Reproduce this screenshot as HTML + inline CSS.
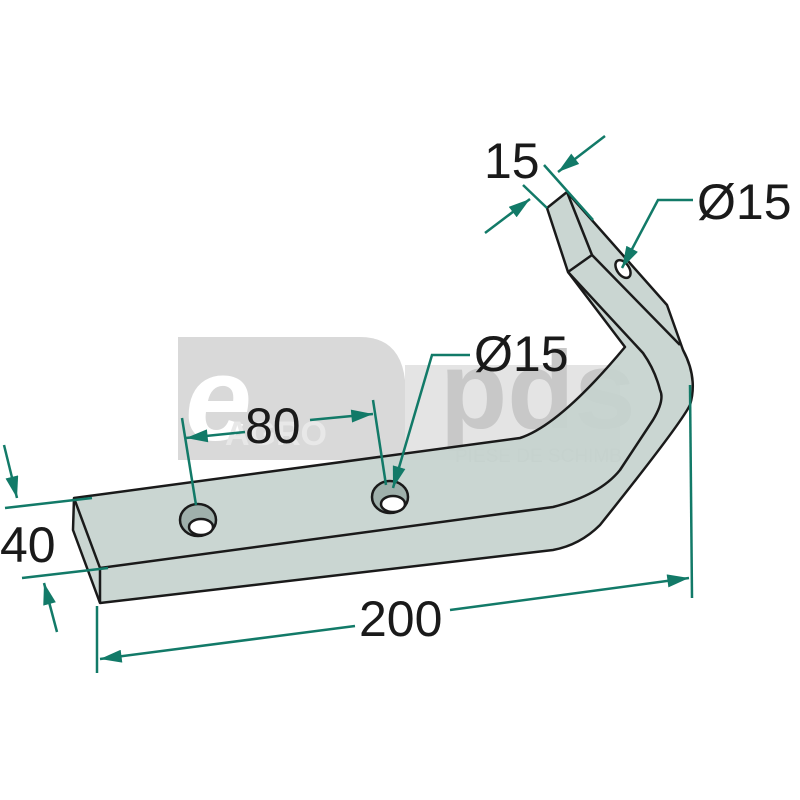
<!DOCTYPE html>
<html><head><meta charset="utf-8"><style>
html,body{margin:0;padding:0;background:#fff;width:800px;height:800px;overflow:hidden}
svg{display:block}
text{font-family:"Liberation Sans","DejaVu Sans",sans-serif}
</style></head><body>
<svg width="800" height="800" viewBox="0 0 800 800" xmlns="http://www.w3.org/2000/svg">
<defs>
<marker id="b" viewBox="0 0 20 12" refX="20" refY="6" markerWidth="22" markerHeight="13" orient="auto" markerUnits="userSpaceOnUse">
<path d="M0,0 L20,6 L0,12 Z" fill="#127a68"/></marker>
</defs>
<path d="M178,337 H360 Q400,337 405,380 V460 H178 Z" fill="#d9d9d9"/>
<path d="M405,365 H620 V460 H405 Z" fill="#e4e4e4"/>
<text x="185" y="440" font-size="120" font-style="italic" fill="#fff" font-weight="bold">e</text>
<text x="225" y="445" font-size="34" fill="#e8e8e8" font-weight="bold">AGRO</text>
<text x="440" y="428" font-size="110" fill="#c8c8c8" font-weight="bold">pds</text>
<text x="455" y="462" font-size="19" fill="#c4c4c4">PIESE DE SCHIMB</text>
<g stroke="#1a1a1a" stroke-width="2.5" stroke-linejoin="round" fill="#c6d2ce" fill-opacity="0.92">
<path d="M74,498 L520,438 Q560,425 625,347 L568,272 L547,208 L567,192 L667,305 L683,350 Q698,378 690,405 Q680,425 600,525 Q580,545 553,550 L100,603 L73,530 Z"/>
</g>
<g stroke="#1a1a1a" stroke-width="2.5" fill="none" stroke-linejoin="round">
<path d="M74,498 L100,568 L100,603"/>
<path d="M100,568 L553,507 Q600,495 620,470 L653,420 Q665,400 660,390 Q655,370 643,353 L568,272"/>
<path d="M568,272 L592,255 L567,192"/>
<path d="M592,255 L680,345"/>
<ellipse cx="198" cy="520" rx="18" ry="16" fill="#9fb0ab"/>
<ellipse cx="201" cy="527" rx="12" ry="8" fill="#fff"/>
<ellipse cx="390" cy="497" rx="18" ry="16" fill="#9fb0ab"/>
<ellipse cx="393" cy="504" rx="12" ry="8" fill="#fff"/>
<ellipse cx="623" cy="269" rx="6" ry="10" transform="rotate(-35 623 269)" fill="#fff"/>
</g>
<g stroke="#127a68" stroke-width="2.5" fill="none">
<line x1="544" y1="165" x2="593" y2="220"/>
<line x1="523" y1="185" x2="547" y2="208"/>
<line x1="605" y1="136" x2="558" y2="172" marker-end="url(#b)"/>
<line x1="485" y1="233" x2="530" y2="199" marker-end="url(#b)"/>
<polyline points="693,200 658,200 622,268" marker-end="url(#b)"/>
<polyline points="470,355 432,355 393,488" marker-end="url(#b)"/>
<line x1="182" y1="418" x2="196" y2="505"/>
<line x1="373" y1="400" x2="386" y2="485"/>
<line x1="245" y1="432" x2="186" y2="438" marker-end="url(#b)"/>
<line x1="310" y1="420" x2="373" y2="414" marker-end="url(#b)"/>
<line x1="5" y1="508" x2="92" y2="498"/>
<line x1="22" y1="578" x2="108" y2="568"/>
<line x1="4" y1="445" x2="17" y2="498" marker-end="url(#b)"/>
<line x1="57" y1="632" x2="44" y2="583" marker-end="url(#b)"/>
<line x1="97" y1="606" x2="97" y2="673"/>
<line x1="690" y1="385" x2="692" y2="598"/>
<line x1="355" y1="626" x2="100" y2="659" marker-end="url(#b)"/>
<line x1="450" y1="610" x2="689" y2="578" marker-end="url(#b)"/>
</g>
<g font-size="50" fill="#1a1a1a">
<text x="484" y="178">15</text>
<text x="697" y="219">Ø15</text>
<text x="474" y="371">Ø15</text>
<text x="245" y="443">80</text>
<text x="0" y="562">40</text>
<text x="359" y="636">200</text>
</g>
</svg>
</body></html>
